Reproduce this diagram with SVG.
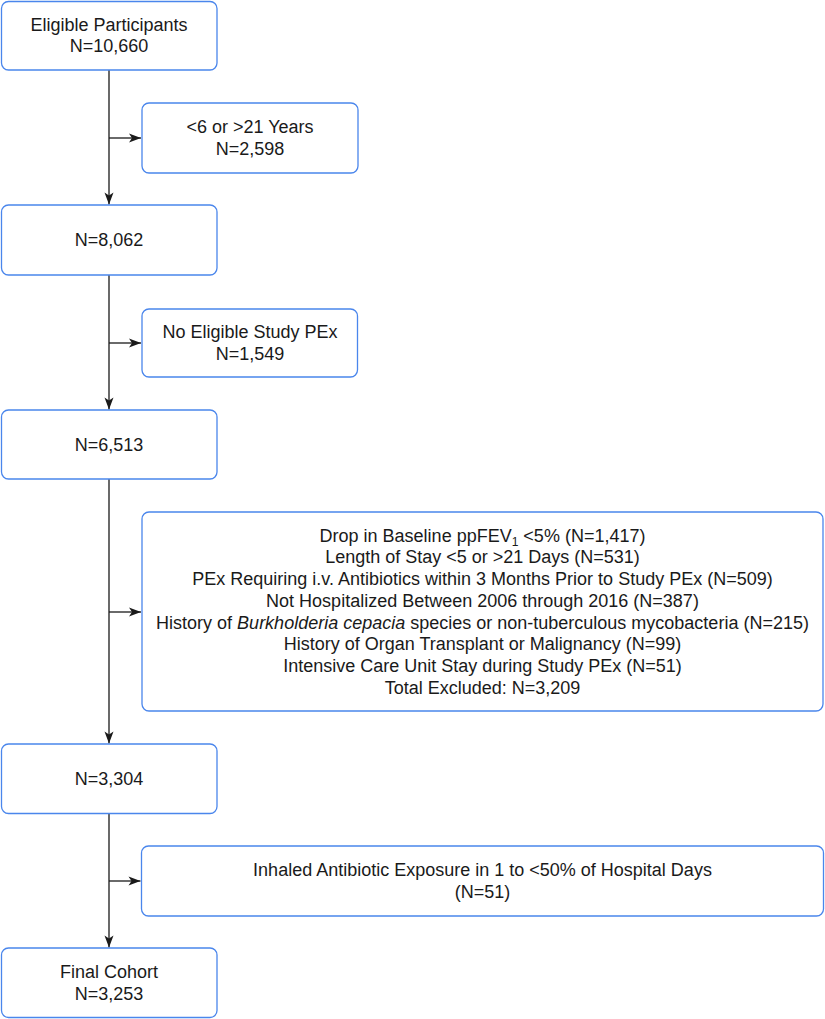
<svg xmlns="http://www.w3.org/2000/svg" width="825" height="1019" viewBox="0 0 825 1019">
<defs>
<style>
.box{fill:#fff;stroke:#4a86ec;stroke-width:1.3}
.t{font-family:"Liberation Sans",Arial,Helvetica,sans-serif;font-size:18px;fill:#1a1a1a;text-anchor:middle}
.c{fill:none;stroke:#1a1a1a;stroke-width:1.3}
</style>
<marker id="ar" markerUnits="userSpaceOnUse" markerWidth="14" markerHeight="12" viewBox="0 0 14 12" refX="13" refY="6" orient="auto">
<path d="M1,1.5 L13,6 L1,10.5 L4,6 Z" fill="#1a1a1a"/>
</marker>
</defs>
<rect width="825" height="1019" fill="#fff"/>
<g id="connectors">
<path class="c" d="M109,70 V204.5" marker-end="url(#ar)"/>
<path class="c" d="M109,138 H141" marker-end="url(#ar)"/>
<path class="c" d="M109,275 V409.5" marker-end="url(#ar)"/>
<path class="c" d="M109,343 H141" marker-end="url(#ar)"/>
<path class="c" d="M109,479 V743.5" marker-end="url(#ar)"/>
<path class="c" d="M109,612 H141" marker-end="url(#ar)"/>
<path class="c" d="M109,813 V947.5" marker-end="url(#ar)"/>
<path class="c" d="M109,881 H140.5" marker-end="url(#ar)"/>
</g>
<g id="n1">
<rect class="box" x="1.5" y="1.5" width="215.5" height="68.5" rx="7"/>
<text class="t" x="109" y="30.6">Eligible Participants</text>
<text class="t" x="109" y="52.4">N=10,660</text>
</g>
<g id="n2">
<rect class="box" x="142" y="103" width="216" height="70" rx="7"/>
<text class="t" x="250" y="133">&lt;6 or &gt;21 Years</text>
<text class="t" x="250" y="154.8">N=2,598</text>
</g>
<g id="n3">
<rect class="box" x="1.5" y="205" width="215.5" height="70" rx="7"/>
<text class="t" x="109" y="246">N=8,062</text>
</g>
<g id="n4">
<rect class="box" x="142" y="309" width="215.5" height="68" rx="7"/>
<text class="t" x="250" y="338">No Eligible Study PEx</text>
<text class="t" x="250" y="359.8">N=1,549</text>
</g>
<g id="n5">
<rect class="box" x="1.5" y="410" width="215.5" height="69" rx="7"/>
<text class="t" x="109" y="450.5">N=6,513</text>
</g>
<g id="n6">
<rect class="box" x="142" y="512" width="681" height="199" rx="7"/>
<text class="t" x="482.5" y="541.7">Drop in Baseline ppFEV<tspan font-size="12" dy="4">1</tspan><tspan dy="-4"> &lt;5% (N=1,417)</tspan></text>
<text class="t" x="482.5" y="563.4">Length of Stay &lt;5 or &gt;21 Days (N=531)</text>
<text class="t" x="482.5" y="585.1">PEx Requiring i.v. Antibiotics within 3 Months Prior to Study PEx (N=509)</text>
<text class="t" x="482.5" y="606.8">Not Hospitalized Between 2006 through 2016 (N=387)</text>
<text class="t" x="482.5" y="628.5">History of <tspan font-style="italic">Burkholderia cepacia</tspan> species or non-tuberculous mycobacteria (N=215)</text>
<text class="t" x="482.5" y="650.2">History of Organ Transplant or Malignancy (N=99)</text>
<text class="t" x="482.5" y="671.9">Intensive Care Unit Stay during Study PEx (N=51)</text>
<text class="t" x="482.5" y="693.6">Total Excluded: N=3,209</text>
</g>
<g id="n7">
<rect class="box" x="1.5" y="744" width="215.5" height="69.5" rx="7"/>
<text class="t" x="109" y="785">N=3,304</text>
</g>
<g id="n8">
<rect class="box" x="141.5" y="846" width="682" height="70" rx="7"/>
<text class="t" x="482.5" y="875.5">Inhaled Antibiotic Exposure in 1 to &lt;50% of Hospital Days</text>
<text class="t" x="482.5" y="897.5">(N=51)</text>
</g>
<g id="n9">
<rect class="box" x="1.5" y="948" width="215.5" height="69.5" rx="7"/>
<text class="t" x="109" y="977.5">Final Cohort</text>
<text class="t" x="109" y="999.5">N=3,253</text>
</g>
</svg>
